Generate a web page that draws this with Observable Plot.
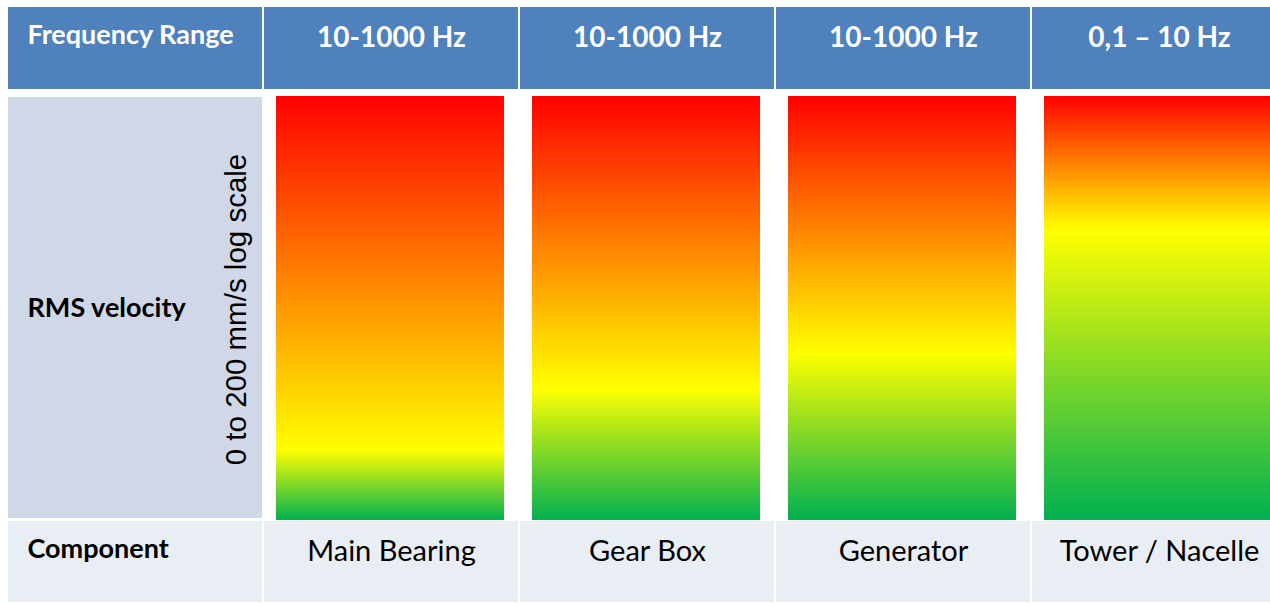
<!DOCTYPE html>
<html>
<head>
<meta charset="utf-8">
<script src="https://cdn.jsdelivr.net/npm/d3@7"></script>
<script src="https://cdn.jsdelivr.net/npm/@observablehq/plot@0.6"></script>
<style>
  html, body { margin: 0; padding: 0; background: #ffffff; }
  svg { display: block; }
</style>
</head>
<body>
<div id="chart"></div>
<script>
// ---- data ----
const rowLabels = ["Frequency Range", "RMS velocity", "Component"];
const components = ["Main Bearing", "Gear Box", "Generator", "Tower / Nacelle"];
const frequencyRanges = ["10-1000 Hz", "10-1000 Hz", "10-1000 Hz", "0,1 – 10 Hz"];
// position of the yellow (alert) level on the 0–200 mm/s log scale, 0 = bottom, 1 = top
const alertLevel = [0.165, 0.311, 0.394, 0.684];
const axisLabel = "0 to 200 mm/s log scale";

// ---- layout (style, not data) ----
const W = 1270, H = 603;
const headTop = 7, headBottom = 89;
const bodyTop = 96, bodyBottom = 520;
const labelTop = 97, labelBottom = 518;
const footTop = 521, footBottom = 602;
const sans = "Lato, 'Open Sans', sans-serif";
const arial = "'Liberation Sans', Arial, sans-serif";

const columns = ["label", ...components];

function gradients() {
  return () => {
    const defs = d3.create("svg:defs");
    components.forEach((c, i) => {
      const g = defs.append("linearGradient")
        .attr("id", `grad${i}`)
        .attr("x1", 0).attr("y1", 0).attr("x2", 0).attr("y2", 1);
      g.append("stop").attr("offset", "0%").attr("stop-color", "#FF0000");
      g.append("stop").attr("offset", `${(1 - alertLevel[i]) * 100}%`).attr("stop-color", "#FFFF00");
      g.append("stop").attr("offset", "100%").attr("stop-color", "#00B050");
    });
    return defs.node();
  };
}

const headerData = columns.map((c, i) => ({col: c, text: i === 0 ? rowLabels[0] : frequencyRanges[i - 1]}));

const chart = Plot.plot({
  width: W,
  height: H,
  margin: 0,
  style: {background: "#ffffff"},
  x: {type: "band", domain: columns, range: [8, 8 + 256 * 5 - 2], paddingInner: 2 / 256, paddingOuter: 0, axis: null},
  y: {type: "linear", domain: [0, H], range: [0, H], axis: null},
  marks: [
    gradients(),
    // header cells
    Plot.barY(columns, {x: d => d, y1: headTop, y2: headBottom, fill: "#4F81BD"}),
    // label cell in body row
    Plot.barY(["label"], {x: d => d, y1: labelTop, y2: labelBottom, fill: "#D0D8E8"}),
    // footer cells
    Plot.barY(columns, {x: d => d, y1: footTop, y2: footBottom, fill: "#E9EDF4"}),
    // gradient bars
    ...components.map((c, i) => Plot.barY([c], {
      x: d => d, y1: bodyBottom, y2: bodyTop,
      fill: `url(#grad${i})`, insetLeft: 12, insetRight: 14
    })),
    // header texts
    Plot.text(headerData.slice(0, 1), {
      x: "col", y: 43, text: "text", fill: "white", fontWeight: "bold",
      fontSize: 27, fontFamily: sans, textAnchor: "start", lineAnchor: "bottom", dx: -108
    }),
    Plot.text(headerData.slice(1), {
      x: "col", y: 46, text: "text", fill: "white", fontWeight: "bold",
      fontSize: 28, fontFamily: sans, lineAnchor: "bottom"
    }),
    // body label
    Plot.text([rowLabels[1]], {
      x: () => "label", y: 316, text: d => d, fill: "black", fontWeight: "bold",
      fontSize: 27, fontFamily: sans, textAnchor: "start", lineAnchor: "bottom", dx: -108
    }),
    Plot.text([axisLabel], {
      x: () => "label", y: 309, text: d => d, fill: "black",
      fontSize: 29.5, fontFamily: arial, rotate: -90, lineAnchor: "bottom", dx: 110
    }),
    // footer label
    Plot.text([rowLabels[2]], {
      x: () => "label", y: 557, text: d => d, fill: "black", fontWeight: "bold",
      fontSize: 27, fontFamily: sans, textAnchor: "start", lineAnchor: "bottom", dx: -108
    }),
    Plot.text(components, {
      x: d => d, y: 560, text: d => d, fill: "black",
      fontSize: 29, fontFamily: sans, lineAnchor: "bottom"
    })
  ]
});

document.getElementById("chart").appendChild(chart);
</script>
</body>
</html>
